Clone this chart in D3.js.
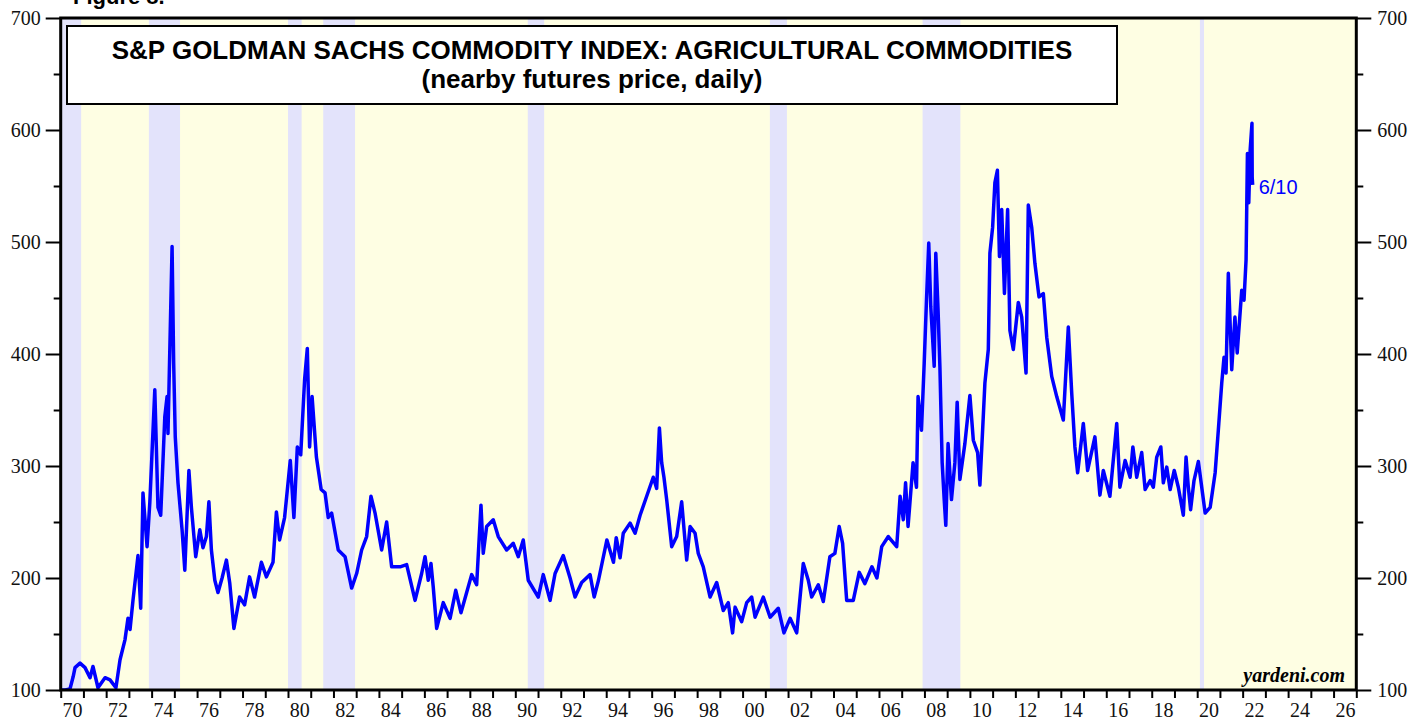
<!DOCTYPE html>
<html lang="en">
<head>
<meta charset="UTF-8">
<title>S&amp;P GSCI Agricultural Commodities</title>
<script src="https://d3js.org/d3.v7.min.js"></script>
<style>
    body { margin: 0; background: #fff; }
    svg { display: block; }
    .tick text { font-family: "Liberation Serif", "Times New Roman", serif; font-size: 20px; fill: #111; }
</style>
</head>
<body>
<div id="chart"></div>
<script>
// recession periods (decimal years)
const recessions = [
    [1969.92, 1970.9], [1973.88, 1975.25], [1980.0, 1980.6], [1981.55, 1982.95],
    [1990.55, 1991.27], [2001.2, 2001.95], [2007.92, 2009.58], [2020.12, 2020.3]
];

const yTicks = [100, 200, 300, 400, 500, 600, 700];
const yMinorTicks = [150, 250, 350, 450, 550, 650];
const yearTicks = d3.range(1970, 2028);
const yearLabels = d3.range(1970, 2027, 2);

// [decimal year, index value]
const prices = [
    [1970.0, 100], [1970.2, 100], [1970.41, 101], [1970.55, 112], [1970.63, 120], [1970.85, 124],
    [1971.07, 120], [1971.29, 111], [1971.42, 121], [1971.64, 102], [1971.95, 111], [1972.17, 109],
    [1972.43, 102], [1972.61, 127], [1972.83, 145], [1972.96, 164], [1973.05, 154], [1973.18, 180],
    [1973.4, 220], [1973.52, 173], [1973.62, 276], [1973.8, 228], [1973.92, 267], [1974.14, 368],
    [1974.28, 263], [1974.4, 256], [1974.58, 344], [1974.68, 362], [1974.72, 329], [1974.9, 496],
    [1974.97, 392], [1975.04, 326], [1975.16, 285], [1975.34, 243], [1975.46, 207], [1975.64, 296],
    [1975.75, 263], [1975.94, 219], [1976.12, 243], [1976.26, 227], [1976.41, 237], [1976.52, 268],
    [1976.63, 225], [1976.78, 198], [1976.92, 187], [1977.1, 200], [1977.29, 216], [1977.44, 195],
    [1977.62, 155], [1977.87, 183], [1978.09, 176], [1978.31, 201], [1978.53, 183], [1978.83, 214],
    [1979.05, 201], [1979.34, 214], [1979.49, 259], [1979.63, 234], [1979.85, 254], [1980.1, 305],
    [1980.26, 254], [1980.41, 317], [1980.56, 310], [1980.73, 377], [1980.85, 405], [1980.95, 317],
    [1981.06, 362], [1981.25, 308], [1981.46, 279], [1981.63, 276], [1981.77, 254], [1981.92, 258],
    [1982.21, 225], [1982.51, 219], [1982.8, 191], [1983.02, 204], [1983.24, 225], [1983.46, 237],
    [1983.65, 273], [1983.83, 258], [1984.12, 225], [1984.34, 250], [1984.56, 210], [1984.93, 210],
    [1985.22, 212], [1985.59, 180], [1985.88, 204], [1986.03, 219], [1986.17, 198], [1986.29, 213],
    [1986.39, 192], [1986.54, 155], [1986.83, 178], [1987.13, 164], [1987.38, 189], [1987.61, 169],
    [1987.86, 187], [1988.08, 203], [1988.3, 194], [1988.49, 265], [1988.59, 222], [1988.74, 246],
    [1989.03, 252], [1989.25, 237], [1989.62, 225], [1989.91, 231], [1990.13, 219], [1990.35, 234],
    [1990.57, 198], [1991.01, 183], [1991.23, 203], [1991.53, 180], [1991.75, 204], [1992.11, 220],
    [1992.41, 200], [1992.63, 183], [1992.92, 196], [1993.29, 203], [1993.47, 183], [1993.66, 198],
    [1994.03, 234], [1994.32, 214], [1994.44, 236], [1994.61, 218], [1994.75, 240], [1995.05, 249],
    [1995.27, 240], [1995.49, 256], [1995.78, 273], [1996.07, 290], [1996.22, 280], [1996.34, 334],
    [1996.44, 303], [1996.54, 290], [1996.66, 270], [1996.88, 228], [1997.1, 237], [1997.32, 268],
    [1997.54, 216], [1997.69, 246], [1997.91, 240], [1998.05, 222], [1998.27, 210], [1998.57, 183],
    [1998.86, 196], [1999.15, 171], [1999.37, 178], [1999.56, 151], [1999.67, 174], [1999.96, 161],
    [2000.18, 178], [2000.4, 183], [2000.55, 165], [2000.91, 183], [2001.21, 165], [2001.57, 173],
    [2001.82, 151], [2002.09, 164], [2002.38, 151], [2002.67, 213], [2002.89, 198], [2003.04, 183],
    [2003.33, 194], [2003.55, 179], [2003.84, 219], [2004.06, 222], [2004.25, 246], [2004.4, 231],
    [2004.58, 180], [2004.87, 180], [2005.13, 205], [2005.38, 195], [2005.69, 210], [2005.91, 200],
    [2006.12, 228], [2006.41, 237], [2006.78, 228], [2006.93, 273], [2007.07, 252], [2007.17, 285],
    [2007.28, 246], [2007.5, 303], [2007.65, 281], [2007.72, 362], [2007.87, 332], [2007.99, 392],
    [2008.09, 448], [2008.19, 499], [2008.28, 442], [2008.43, 389], [2008.5, 490], [2008.6, 439],
    [2008.68, 389], [2008.78, 303], [2008.87, 270], [2008.94, 247], [2009.04, 320], [2009.19, 270],
    [2009.34, 303], [2009.44, 357], [2009.56, 288], [2009.78, 320], [2010.0, 363], [2010.15, 323],
    [2010.34, 312], [2010.44, 283], [2010.56, 332], [2010.66, 374], [2010.81, 404], [2010.88, 490],
    [2011.0, 513], [2011.1, 553], [2011.21, 564], [2011.3, 487], [2011.4, 529], [2011.52, 454],
    [2011.66, 529], [2011.76, 421], [2011.91, 404], [2012.13, 446], [2012.28, 433], [2012.47, 383],
    [2012.57, 533], [2012.72, 513], [2012.86, 481], [2013.04, 451], [2013.23, 454], [2013.38, 415],
    [2013.6, 380], [2013.82, 362], [2014.11, 341], [2014.33, 424], [2014.48, 365], [2014.62, 317],
    [2014.74, 294], [2014.99, 338], [2015.18, 296], [2015.5, 326], [2015.72, 274], [2015.87, 296],
    [2016.16, 273], [2016.46, 338], [2016.6, 281], [2016.83, 305], [2017.05, 290], [2017.17, 317],
    [2017.34, 290], [2017.56, 312], [2017.71, 279], [2017.93, 287], [2018.07, 281], [2018.22, 308],
    [2018.4, 317], [2018.51, 285], [2018.66, 299], [2018.81, 279], [2018.99, 296], [2019.17, 281],
    [2019.39, 256], [2019.51, 308], [2019.61, 281], [2019.71, 261], [2019.86, 287], [2020.05, 304],
    [2020.2, 281], [2020.35, 258], [2020.57, 263], [2020.79, 294], [2020.93, 332], [2021.08, 374],
    [2021.18, 397], [2021.27, 383], [2021.37, 472], [2021.52, 386], [2021.66, 433], [2021.76, 401],
    [2021.96, 457], [2022.06, 448], [2022.15, 484], [2022.21, 579], [2022.27, 535], [2022.33, 582],
    [2022.41, 606], [2022.42, 558], [2022.44, 551]
];

const width = 1427, height = 721;
const margin = { top: 18, right: 70.7, bottom: 31, left: 60.7 };
const innerW = width - margin.left - margin.right;
const innerH = height - margin.top - margin.bottom;

const svg = d3.select("#chart").append("svg")
    .attr("width", width)
    .attr("height", height);

const g = svg.append("g")
    .attr("transform", `translate(${margin.left},${margin.top})`);

const x = d3.scaleLinear().domain([1970, 2027]).range([0, innerW]);
const y = d3.scaleLinear().domain([100, 700]).range([innerH, 0]);

g.append("clipPath").attr("id", "plot-clip")
    .append("rect").attr("width", innerW).attr("height", innerH);

const plot = g.append("g").attr("clip-path", "url(#plot-clip)");

plot.append("rect")
    .attr("width", innerW)
    .attr("height", innerH)
    .attr("fill", "#fefee3");

plot.selectAll(".recession")
    .data(recessions)
    .enter().append("rect")
    .attr("class", "recession")
    .attr("x", d => x(d[0]))
    .attr("width", d => x(d[1]) - x(d[0]))
    .attr("y", 0)
    .attr("height", innerH)
    .attr("fill", "#e3e3fb");

const line = d3.line()
    .x(d => x(d[0]))
    .y(d => y(d[1]));

plot.append("path")
    .datum(prices)
    .attr("fill", "none")
    .attr("stroke", "#0000ff")
    .attr("stroke-width", 3.5)
    .attr("stroke-linejoin", "round")
    .attr("d", line);

// axes
g.append("g")
    .call(d3.axisLeft(y).tickValues(yTicks).tickSize(15).tickPadding(5))
    .call(a => a.select(".domain").remove());
g.append("g")
    .call(d3.axisLeft(y).tickValues(yMinorTicks).tickSize(7).tickFormat(""))
    .call(a => a.select(".domain").remove());
g.append("g")
    .attr("transform", `translate(${innerW},0)`)
    .call(d3.axisRight(y).tickValues(yTicks).tickSize(15).tickPadding(6))
    .call(a => a.select(".domain").remove());
g.append("g")
    .attr("transform", `translate(${innerW},0)`)
    .call(d3.axisRight(y).tickValues(yMinorTicks).tickSize(7).tickFormat(""))
    .call(a => a.select(".domain").remove());

g.append("g")
    .attr("transform", `translate(0,${innerH})`)
    .call(d3.axisBottom(x).tickValues(yearTicks).tickSize(8).tickFormat(""))
    .call(a => a.select(".domain").remove());
g.append("g")
    .attr("transform", `translate(0,${innerH})`)
    .call(d3.axisBottom(x).tickValues(yearLabels.map(d => d + 0.5)).tickSize(0).tickPadding(13)
        .tickFormat(d => String(Math.floor(d) % 100).padStart(2, "0")))
    .call(a => a.select(".domain").remove());

g.selectAll(".tick line").attr("stroke", "#000").attr("stroke-width", 2);

// frame
g.append("rect")
    .attr("width", innerW)
    .attr("height", innerH)
    .attr("fill", "none")
    .attr("stroke", "#000")
    .attr("stroke-width", 3);

// title box
svg.append("rect")
    .attr("x", 67).attr("y", 26)
    .attr("width", 1050).attr("height", 78)
    .attr("fill", "#fff")
    .attr("stroke", "#000")
    .attr("stroke-width", 2);

svg.append("text")
    .attr("x", 592).attr("y", 59)
    .attr("text-anchor", "middle")
    .style("font-family", "'Liberation Sans', Arial, sans-serif")
    .style("font-weight", "bold")
    .style("font-size", "26px")
    .text("S&P GOLDMAN SACHS COMMODITY INDEX: AGRICULTURAL COMMODITIES");

svg.append("text")
    .attr("x", 592).attr("y", 88)
    .attr("text-anchor", "middle")
    .style("font-family", "'Liberation Sans', Arial, sans-serif")
    .style("font-weight", "bold")
    .style("font-size", "26px")
    .text("(nearby futures price, daily)");

svg.append("text")
    .attr("x", 73).attr("y", 4)
    .style("font-family", "'Liberation Sans', Arial, sans-serif")
    .style("font-weight", "bold")
    .style("font-size", "22px")
    .text("Figure 8.");

svg.append("text")
    .attr("x", 1345).attr("y", 682)
    .attr("text-anchor", "end")
    .style("font-family", "'Liberation Serif', 'Times New Roman', serif")
    .style("font-weight", "bold")
    .style("font-style", "italic")
    .style("font-size", "20px")
    .text("yardeni.com");

svg.append("text")
    .attr("x", x(2022.44) + margin.left + 6).attr("y", 194)
    .attr("fill", "#0000ff")
    .style("font-family", "'Liberation Sans', Arial, sans-serif")
    .style("font-size", "20px")
    .text("6/10");
</script>
</body>
</html>
